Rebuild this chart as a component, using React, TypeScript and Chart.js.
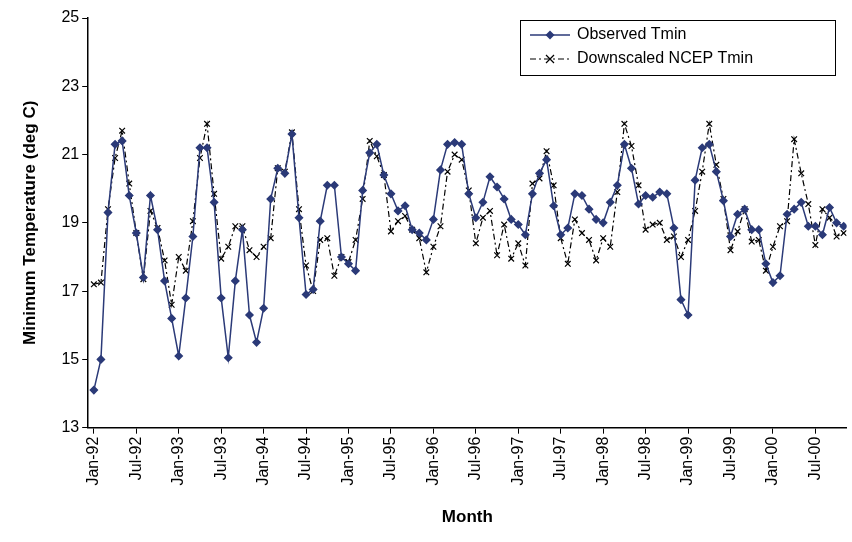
import React, { useEffect, useRef } from "react";
import { Chart, registerables } from "chart.js";
Chart.register(...registerables);

const monthNames = ["Jan","Feb","Mar","Apr","May","Jun","Jul","Aug","Sep","Oct","Nov","Dec"];
const months: string[] = [];
for (let y = 92; y <= 100; y++) for (let m = 0; m < 12; m++) {
  if (months.length < 107) months.push(`${monthNames[m]}-${String(y % 100).padStart(2, "0")}`);
}

const observed = [14.1,15.0,19.3,21.3,21.4,19.8,18.7,17.4,19.8,18.8,17.3,16.2,
15.1,16.8,18.6,21.2,21.2,19.6,16.8,15.05,17.3,18.8,16.3,15.5,
16.5,19.7,20.6,20.45,21.6,19.15,16.9,17.05,19.05,20.1,20.1,18.0,
17.8,17.6,19.95,21.05,21.3,20.4,19.85,19.35,19.5,18.8,18.7,18.5,
19.1,20.55,21.3,21.35,21.3,19.85,19.15,19.6,20.35,20.05,19.7,19.1,
18.95,18.65,19.85,20.45,20.85,19.5,18.65,18.85,19.85,19.8,19.4,19.1,
19.0,19.6,20.1,21.3,20.6,19.55,19.8,19.75,19.9,19.85,18.85,16.75,
16.3,20.25,21.2,21.3,20.5,19.65,18.6,19.25,19.4,18.8,18.8,17.8,
17.25,17.45,19.25,19.4,19.6,18.9,18.9,18.65,19.45,19.0,18.9];

const ncep = [17.2,17.25,19.4,20.9,21.7,20.15,18.7,17.35,19.35,18.85,17.9,16.6,
18.0,17.6,19.05,20.9,21.9,19.85,17.95,18.3,18.9,18.9,18.2,18.0,
18.3,18.55,20.6,20.5,21.65,19.4,17.75,17.0,18.5,18.55,17.45,18.0,
17.85,18.5,19.7,21.4,20.95,20.4,18.75,19.05,19.2,18.8,18.55,17.55,
18.3,18.9,20.5,21.0,20.85,19.95,18.4,19.15,19.35,18.05,18.95,17.95,
18.4,17.75,20.15,20.3,21.1,20.1,18.55,17.8,19.1,18.7,18.5,17.9,
18.55,18.3,19.9,21.9,21.25,20.1,18.8,18.95,19.0,18.5,18.6,18.0,
18.5,19.35,20.5,21.9,20.7,19.7,18.2,18.75,19.4,18.45,18.5,17.6,
18.3,18.9,19.05,21.45,20.45,19.55,18.35,19.4,19.15,18.6,18.7];

const FONT = "'Liberation Sans', Arial, sans-serif";

const legendPlugin = {
  id: "boxLegend",
  afterDraw(chart: any) {
    const ctx = chart.ctx;
    const x = 520, y = 20, w = 315, h = 55;
    ctx.save();
    ctx.fillStyle = "#fff";
    ctx.fillRect(x, y, w, h);
    ctx.strokeStyle = "#000";
    ctx.lineWidth = 1;
    ctx.strokeRect(x + 0.5, y + 0.5, w, h);
    ctx.font = `16px ${FONT}`;
    ctx.textBaseline = "middle";
    let ly = y + 15;
    ctx.strokeStyle = "#2B3A78";
    ctx.lineWidth = 1.5;
    ctx.beginPath(); ctx.moveTo(x + 10, ly); ctx.lineTo(x + 50, ly); ctx.stroke();
    ctx.fillStyle = "#2B3A78";
    ctx.beginPath(); ctx.moveTo(x + 30, ly - 4.5); ctx.lineTo(x + 34.5, ly); ctx.lineTo(x + 30, ly + 4.5); ctx.lineTo(x + 25.5, ly); ctx.closePath(); ctx.fill();
    ctx.fillStyle = "#000";
    ctx.fillText("Observed Tmin", x + 57, ly);
    ly = y + 39;
    ctx.strokeStyle = "#000";
    ctx.lineWidth = 1.2;
    ctx.setLineDash([6, 3, 2, 3]);
    ctx.beginPath(); ctx.moveTo(x + 10, ly); ctx.lineTo(x + 50, ly); ctx.stroke();
    ctx.setLineDash([]);
    ctx.beginPath(); ctx.moveTo(x + 26, ly - 4); ctx.lineTo(x + 34, ly + 4); ctx.moveTo(x + 34, ly - 4); ctx.lineTo(x + 26, ly + 4); ctx.stroke();
    ctx.fillText("Downscaled NCEP Tmin", x + 57, ly);
    ctx.restore();
  },
};

export default function App() {
  const ref = useRef<HTMLCanvasElement>(null);
  useEffect(() => {
    document.body.style.margin = "0";
    const chart = new Chart(ref.current!, {
      type: "line",
      data: {
        datasets: [
          {
            label: "Observed Tmin",
            data: observed.map((v, i) => ({ x: i, y: v })),
            borderColor: "#2B3A78",
            backgroundColor: "#2B3A78",
            borderWidth: 1.5,
            pointStyle: "rectRot",
            pointRadius: 3.5,
            tension: 0,
          },
          {
            label: "Downscaled NCEP Tmin",
            data: ncep.map((v, i) => ({ x: i, y: v })),
            borderColor: "#000",
            backgroundColor: "#000",
            borderWidth: 1.2,
            borderDash: [6, 3, 2, 3],
            pointStyle: "crossRot",
            pointRadius: 4,
            pointBorderWidth: 1.2,
            tension: 0,
          },
        ],
      },
      options: {
        animation: false,
        responsive: false,
        layout: { padding: { top: 18, right: 0, left: 16, bottom: 10 } },
        plugins: { legend: { display: false }, tooltip: { enabled: false } },
        scales: {
          x: {
            type: "linear",
            min: -0.8,
            max: 106.4,
            afterBuildTicks: (axis: any) => {
              const t = [];
              for (let i = 0; i <= 102; i += 6) t.push({ value: i });
              axis.ticks = t;
            },
            ticks: {
              callback: (v: any) => months[v] ?? "",
              minRotation: 90,
              maxRotation: 90,
              autoSkip: false,
              color: "#000",
              font: { family: FONT, size: 16 },
            },
            grid: { drawOnChartArea: false, color: "#000", tickLength: 6 },
            border: { color: "#000", width: 1.5 },
            title: { display: true, text: "Month", color: "#000", font: { family: FONT, size: 17, weight: "bold" }, padding: { top: 19 } },
          },
          y: {
            min: 13,
            max: 25,
            ticks: { stepSize: 2, color: "#000", font: { family: FONT, size: 16 } },
            grid: { drawOnChartArea: false, color: "#000", tickLength: 6 },
            border: { color: "#000", width: 1.5 },
            title: { display: true, text: "Minimum Temperature (deg C)", color: "#000", font: { family: FONT, size: 17, weight: "bold" }, padding: { bottom: 18 } },
          },
        },
      },
      plugins: [legendPlugin],
    });
    return () => chart.destroy();
  }, []);
  return <canvas ref={ref} width={852} height={542} style={{ display: "block" }} />;
}
